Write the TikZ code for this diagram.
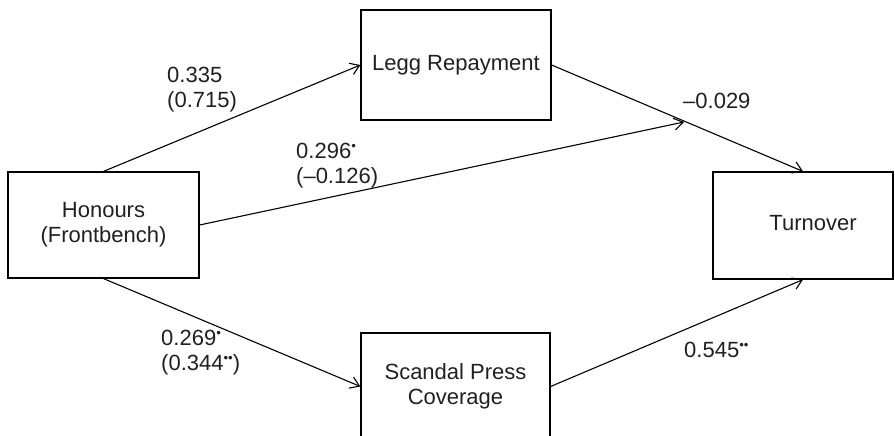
\documentclass[tikz,border=0pt]{standalone}
\usepackage{fontspec}
\usepackage{graphicx}
\setmainfont{Liberation Sans}
\usetikzlibrary{arrows.meta}
\definecolor{ink}{HTML}{231F20}
\newcommand{\sigdot}{\raisebox{0.62ex}{\scalebox{0.6}{•}}}
\begin{document}
\begin{tikzpicture}[x=1pt,y=-1pt,
  font=\fontsize{22}{25}\selectfont, text=ink,
  boxnode/.style={draw=black,line width=1.2pt,rectangle,inner sep=0pt,align=center},
  conn/.style={draw=black,line width=1.1pt,-{Straight Barb[length=9pt,width=12pt,line width=1.1pt]}},
  lab/.style={anchor=base west,inner sep=0pt}]
\useasboundingbox (0,0) rectangle (895,436);
% boxes
\node[boxnode,minimum width=191pt,minimum height=106pt] (hon) at (103.5,225) {Honours\\(Frontbench)};
\node[boxnode,minimum width=190pt,minimum height=110pt] (legg) at (456,65) {Legg Repayment};
\node[boxnode,minimum width=189pt,minimum height=107pt] (sc) at (455.5,386.5) {Scandal Press\\Coverage};
\node[boxnode,minimum width=180pt,minimum height=107pt] (tur) at (803,225.5) {};
\node[inner sep=0pt] (turtext) at (813,223.5) {Turnover};
\coordinate (mid) at (684,122);
% connectors
\draw[conn] (hon.north) -- (legg.west);
\draw[conn] (hon.east) -- (mid);
\draw[conn] (hon.south) -- (sc.west);
\draw[conn] (legg.east) -- (tur.north);
\draw[conn] (sc.east) -- (tur.south);
% labels
\node[lab] (l1a) at (167,82) {0.335};
\node[lab] (l1b) at (167,107) {(0.715)};
\node[lab] (l2a) at (296,158) {0.296\sigdot};
\node[lab] (l2b) at (296,183) {(–0.126)};
\node[lab] (l3a) at (161,345) {0.269\sigdot};
\node[lab] (l3b) at (161,370) {(0.344\sigdot\sigdot)};
\node[lab] (l4) at (683,108) {–0.029};
\node[lab] (l5) at (684,357) {0.545\sigdot\sigdot};
\end{tikzpicture}
\end{document}
